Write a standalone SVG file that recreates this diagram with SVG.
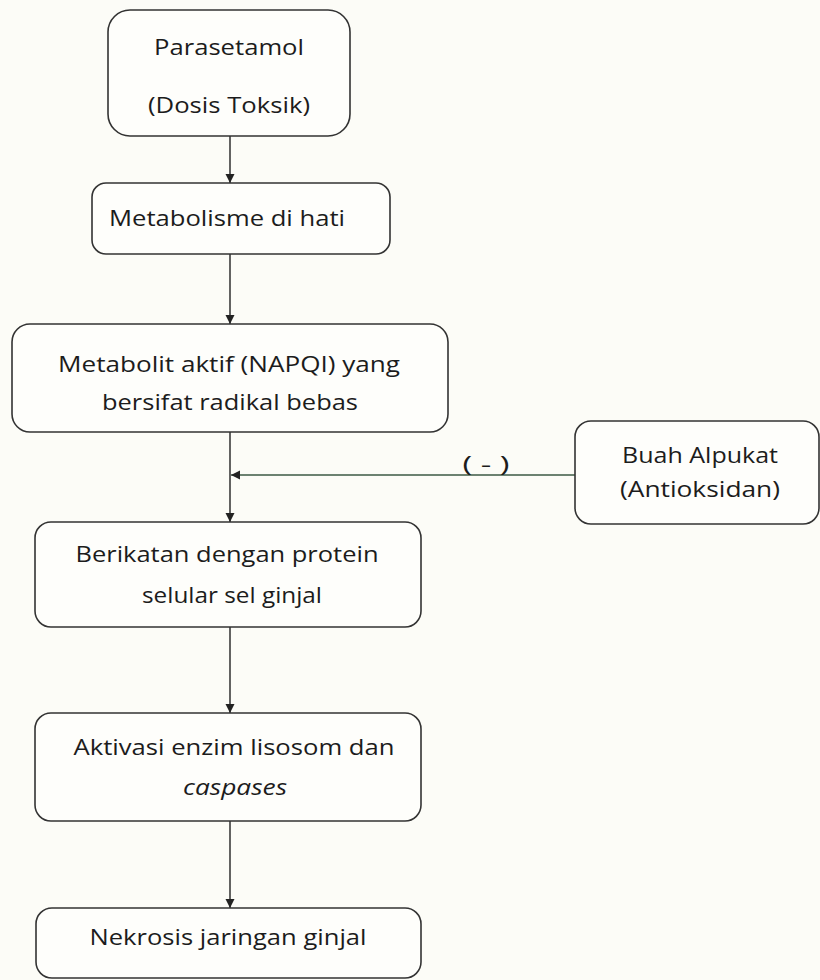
<svg xmlns="http://www.w3.org/2000/svg" width="820" height="980" viewBox="0 0 820 980">
<defs>
<marker id="ah" viewBox="0 0 10 10" refX="10" refY="5" markerWidth="9" markerHeight="11" markerUnits="userSpaceOnUse" orient="auto">
<path d="M0,0 L10,5 L0,10 z" fill="#222"/>
</marker>
<style>
.box{fill:#fefefb;stroke:#333;stroke-width:1.6}
.t{font-family:"Open Sans","Noto Sans",sans-serif;font-size:22px;fill:#1c1c1c;text-anchor:middle}
.i{font-style:italic}
.c{stroke:#222;stroke-width:1.4;fill:none}
.g{stroke:#3d5a45;stroke-width:1.4;fill:none}
</style>
</defs>
<rect width="820" height="980" fill="#fcfcf7"/>
<g id="connectors">
<line class="c" x1="230" y1="136" x2="230" y2="183" marker-end="url(#ah)"/>
<line class="c" x1="230" y1="254" x2="230" y2="324" marker-end="url(#ah)"/>
<line class="c" x1="230" y1="432" x2="230" y2="522" marker-end="url(#ah)"/>
<line class="g" x1="575" y1="475" x2="231" y2="475" marker-end="url(#ah)"/>
<line class="c" x1="230" y1="627" x2="230" y2="713" marker-end="url(#ah)"/>
<line class="c" x1="230" y1="821" x2="230" y2="908" marker-end="url(#ah)"/>
<text class="t" x="486" y="472" textLength="47" lengthAdjust="spacingAndGlyphs">( - )</text>
</g>
<g id="n1">
<rect class="box" x="108" y="10" width="242" height="126" rx="22"/>
<text class="t" x="229" y="55" textLength="150" lengthAdjust="spacingAndGlyphs">Parasetamol</text>
<text class="t" x="229" y="113" textLength="162" lengthAdjust="spacingAndGlyphs">(Dosis Toksik)</text>
</g>
<g id="n2">
<rect class="box" x="92" y="183" width="298" height="71" rx="14"/>
<text class="t" x="227" y="226" textLength="236" lengthAdjust="spacingAndGlyphs">Metabolisme di hati</text>
</g>
<g id="n3">
<rect class="box" x="12" y="324" width="436" height="108" rx="18"/>
<text class="t" x="229" y="372" textLength="342" lengthAdjust="spacingAndGlyphs">Metabolit aktif (NAPQI) yang</text>
<text class="t" x="230" y="410" textLength="256" lengthAdjust="spacingAndGlyphs">bersifat radikal bebas</text>
</g>
<g id="n-alpukat">
<rect class="box" x="575" y="421" width="244" height="103" rx="16"/>
<text class="t" x="700" y="463" textLength="156" lengthAdjust="spacingAndGlyphs">Buah Alpukat</text>
<text class="t" x="700" y="497" textLength="160" lengthAdjust="spacingAndGlyphs">(Antioksidan)</text>
</g>
<g id="n4">
<rect class="box" x="35" y="522" width="386" height="105" rx="16"/>
<text class="t" x="227" y="562" textLength="303" lengthAdjust="spacingAndGlyphs">Berikatan dengan protein</text>
<text class="t" x="232" y="603" textLength="180" lengthAdjust="spacingAndGlyphs">selular sel ginjal</text>
</g>
<g id="n5">
<rect class="box" x="35" y="713" width="386" height="108" rx="16"/>
<text class="t" x="234" y="755" textLength="321" lengthAdjust="spacingAndGlyphs">Aktivasi enzim lisosom dan</text>
<text class="t i" x="235" y="795" textLength="104" lengthAdjust="spacingAndGlyphs">caspases</text>
</g>
<g id="n6">
<rect class="box" x="36" y="908" width="385" height="70" rx="16"/>
<text class="t" x="228" y="945" textLength="277" lengthAdjust="spacingAndGlyphs">Nekrosis jaringan ginjal</text>
</g>
</svg>
